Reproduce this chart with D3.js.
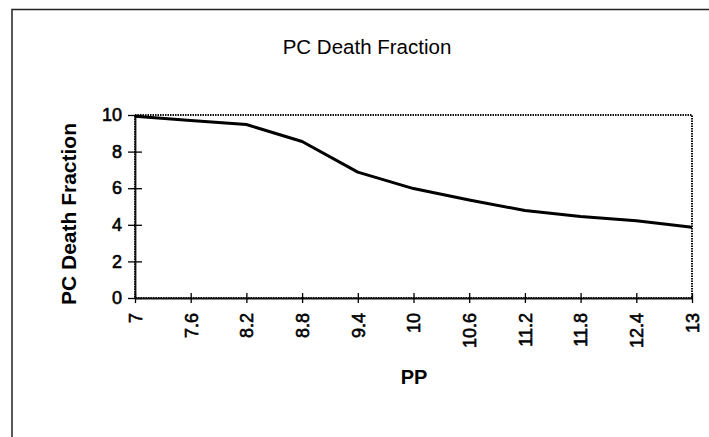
<!DOCTYPE html>
<html>
<head>
<meta charset="utf-8">
<script src="https://cdn.jsdelivr.net/npm/d3@7"></script>
<style>
  body { margin: 0; background: #fff; }
  svg text { font-family: "Liberation Sans", Arial, sans-serif; fill: #000; }
</style>
</head>
<body>
<div id="result"></div>
<script>
/* Data */
var ppValues = [7, 7.6, 8.2, 8.8, 9.4, 10, 10.6, 11.2, 11.8, 12.4, 13];
var deathFraction = [9.93, 9.7, 9.48, 8.55, 6.88, 5.98, 5.36, 4.78, 4.45, 4.22, 3.87];
var yTicks = [0, 2, 4, 6, 8, 10];
var xTicks = [7, 7.6, 8.2, 8.8, 9.4, 10, 10.6, 11.2, 11.8, 12.4, 13];

var width = 709, height = 437;
var plot = {left: 135, right: 692, top: 115, bottom: 298};

var svg = d3.select("#result").append("svg")
    .attr("width", width)
    .attr("height", height);

// outer frame (cut off at right and bottom, like the scan)
svg.append("path")
    .attr("d", "M12," + height + " L12,9.5 L" + width + ",9.5")
    .attr("fill", "none")
    .attr("stroke", "#222")
    .attr("stroke-width", 1.5);

var x = d3.scaleLinear().domain([7, 13]).range([plot.left, plot.right]);
var y = d3.scaleLinear().domain([0, 10]).range([plot.bottom, plot.top]);

// title
svg.append("text")
    .attr("x", 367)
    .attr("y", 54)
    .attr("text-anchor", "middle")
    .style("font-size", "20.5px")
    .text("PC Death Fraction");

// plot frame, dotted like the original
svg.append("rect")
    .attr("x", plot.left)
    .attr("y", plot.top)
    .attr("width", plot.right - plot.left)
    .attr("height", plot.bottom - plot.top)
    .attr("fill", "none")
    .attr("stroke", "#111")
    .attr("stroke-width", 2)
    .attr("stroke-dasharray", "1.5,1");

// y axis
var yAxis = d3.axisLeft(y).tickValues(yTicks).tickSize(0).tickPadding(13);
var gy = svg.append("g")
    .attr("transform", "translate(" + plot.left + ",0)")
    .call(yAxis);
gy.select(".domain").attr("stroke", "#111").attr("stroke-width", 1.8);
gy.selectAll(".tick line").remove();
gy.selectAll(".tick").append("line")
    .attr("x1", -7).attr("x2", 7)
    .attr("stroke", "#000").attr("stroke-width", 1.3);
gy.selectAll(".tick text")
    .style("font-size", "18px")
    .style("font-family", "'Liberation Sans', Arial, sans-serif")
    .attr("fill", "#000")
    .attr("stroke", "#000")
    .attr("stroke-width", 0.6);

// x axis
var xAxis = d3.axisBottom(x).tickValues(xTicks).tickSize(0).tickFormat(d3.format("~g"));
var gx = svg.append("g")
    .attr("transform", "translate(0," + plot.bottom + ")")
    .call(xAxis);
gx.select(".domain").attr("stroke", "#111").attr("stroke-width", 1.8);
gx.selectAll(".tick line").remove();
gx.selectAll(".tick").append("line")
    .attr("y1", -5).attr("y2", 5)
    .attr("stroke", "#000").attr("stroke-width", 1.3);
gx.selectAll(".tick text")
    .attr("transform", "rotate(-90)")
    .attr("x", -15)
    .attr("y", 0)
    .attr("dy", "0.35em")
    .attr("text-anchor", "end")
    .style("font-size", "18px")
    .style("font-family", "'Liberation Sans', Arial, sans-serif")
    .attr("fill", "#000")
    .attr("stroke", "#000")
    .attr("stroke-width", 0.6);

// axis titles
svg.append("text")
    .attr("transform", "translate(76,214) rotate(-90)")
    .attr("text-anchor", "middle")
    .style("font-size", "21px")
    .style("font-weight", "bold")
    .text("PC Death Fraction");

svg.append("text")
    .attr("x", 414)
    .attr("y", 384)
    .attr("text-anchor", "middle")
    .style("font-size", "20px")
    .style("font-weight", "bold")
    .text("PP");

// the series
var points = ppValues.map(function (d, i) {
    return {pp: d, v: deathFraction[i]};
});
var line = d3.line()
    .x(function (d) { return x(d.pp); })
    .y(function (d) { return y(d.v); });

svg.append("path")
    .datum(points)
    .attr("d", line)
    .attr("fill", "none")
    .attr("stroke", "#000")
    .attr("stroke-width", 3)
    .attr("stroke-linejoin", "round");
</script>
</body>
</html>
